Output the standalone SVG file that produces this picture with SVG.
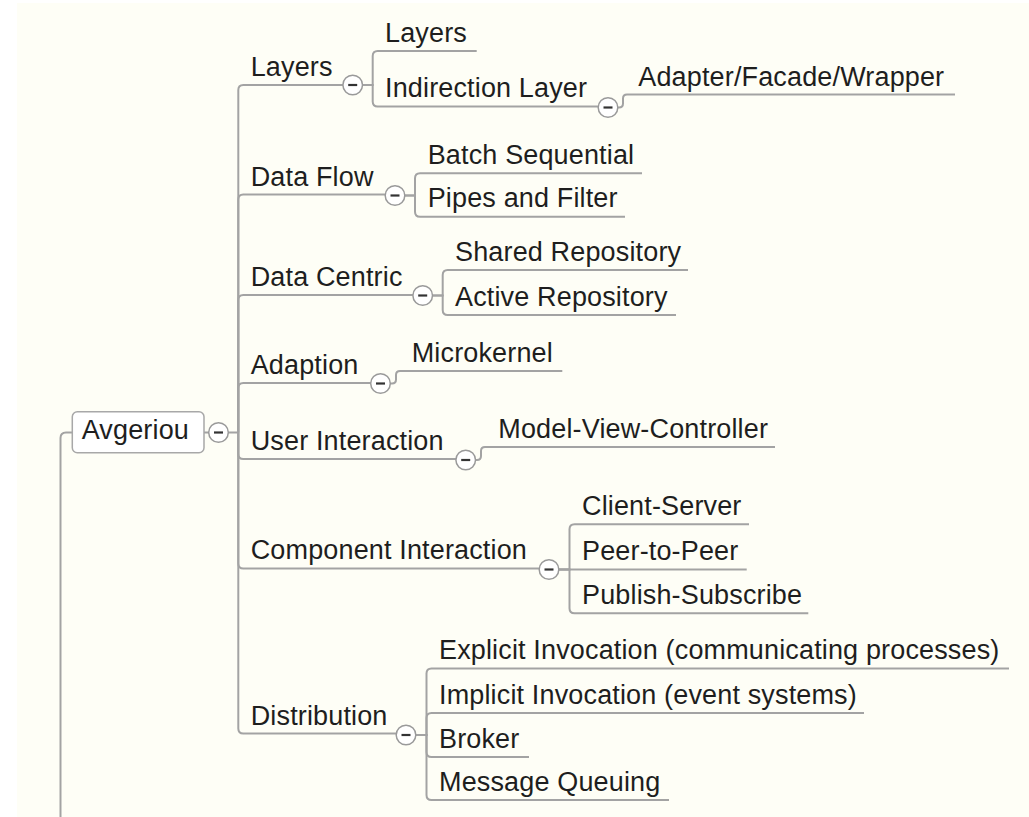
<svg xmlns="http://www.w3.org/2000/svg" xmlns:xlink="http://www.w3.org/1999/xlink" width="1029" height="817" viewBox="0 0 1029 817">
<style>
.ln{fill:none;stroke:#a3a3a3;stroke-width:2}
.t{font-family:"Liberation Sans",Arial,sans-serif;font-size:27px;letter-spacing:0.15px;fill:#1e1e1e}
.cc{fill:#ffffff;stroke:#9a9a9a;stroke-width:1.5}
.mi{stroke:#333333;stroke-width:2.2}
.box{fill:#ffffff;stroke:#a8a8a8;stroke-width:1.5}
</style>
<defs>
<g id="col"><circle class="cc" r="9.8"/><line class="mi" x1="-4.5" y1="0" x2="4.5" y2="0"/></g>
</defs>
<rect x="0" y="0" width="1029" height="817" fill="#ffffff"/>
<rect x="17" y="3" width="1012" height="814" fill="#fefef6"/>
<g id="connectors">
<path class="ln" d="M72.3,432.5 H66 Q60.5,432.5 60.5,438 V817"/>
<path class="ln" d="M204,432.5 H209"/>
<path class="ln" d="M228,432.5 H238.3"/>
<path class="ln" d="M238.3,432.5 V90 Q238.3,85 243.3,85 H343"/>
<path class="ln" d="M238.3,432.5 V199.5 Q238.3,194.5 243.3,194.5 H385.5"/>
<path class="ln" d="M238.3,432.5 V300 Q238.3,295 243.3,295 H413"/>
<path class="ln" d="M238.3,432.5 V388 Q238.3,383 243.3,383 H371"/>
<path class="ln" d="M238.3,432.5 V454 Q238.3,459 243.3,459 H456"/>
<path class="ln" d="M238.3,432.5 V563.5 Q238.3,568.5 243.3,568.5 H539.5"/>
<path class="ln" d="M238.3,432.5 V728.5 Q238.3,733.5 243.3,733.5 H396.5"/>
<path class="ln" d="M362.5,85 H372.7 V56 Q372.7,51 377.7,51 H476.7"/>
<path class="ln" d="M362.5,85 H372.7 V101.5 Q372.7,106.5 377.7,106.5 H598"/>
<path class="ln" d="M617.8,107.5 H619 Q623,107.5 623,103.5 V98.5 Q623,94.5 627,94.5 H955"/>
<path class="ln" d="M404.8,195.5 H415 V178.3 Q415,173.3 420,173.3 H642"/>
<path class="ln" d="M404.8,195.5 H415 V211.7 Q415,216.7 420,216.7 H625"/>
<path class="ln" d="M432.5,295.5 H442.7 V275 Q442.7,270 447.7,270 H688"/>
<path class="ln" d="M432.5,295.5 H442.7 V310 Q442.7,315 447.7,315 H676"/>
<path class="ln" d="M390.3,383.5 H392 Q396,383.5 396,379.5 V375 Q396,371 400,371 H562.3"/>
<path class="ln" d="M475.5,460 H477 Q481,460 481,456 V451 Q481,447 485,447 H775"/>
<path class="ln" d="M558.8,569.5 H569.5 V529.3 Q569.5,524.3 574.5,524.3 H749"/>
<path class="ln" d="M558.8,569.5 H746.7"/>
<path class="ln" d="M558.8,569.5 H569.5 V608.3 Q569.5,613.3 574.5,613.3 H808.3"/>
<path class="ln" d="M415.8,735 H426.5 V673.5 Q426.5,668.5 431.5,668.5 H1009"/>
<path class="ln" d="M415.8,735 H426.5 V718 Q426.5,713 431.5,713 H864"/>
<path class="ln" d="M415.8,735 H426.5 V752 Q426.5,757 431.5,757 H529"/>
<path class="ln" d="M415.8,735 H426.5 V795 Q426.5,800 431.5,800 H669"/>
</g>
<g id="avgeriou">
<rect class="box" x="72.3" y="411.7" width="131.7" height="41" rx="5"/>
<text class="t" x="81.7" y="439">Avgeriou</text>
<use xlink:href="#col" x="218.5" y="432.5"/>
</g>
<g id="layers">
<text class="t" x="250.7" y="76">Layers</text>
<use xlink:href="#col" x="352.7" y="85"/>
</g>
<g id="layers-layers"><text class="t" x="385" y="41.7">Layers</text></g>
<g id="indirection-layer">
<text class="t" x="385" y="97.3">Indirection Layer</text>
<use xlink:href="#col" x="608" y="107.5"/>
</g>
<g id="adapter"><text class="t" x="638.3" y="85.5">Adapter/Facade/Wrapper</text></g>
<g id="data-flow">
<text class="t" x="250.7" y="185.5">Data Flow</text>
<use xlink:href="#col" x="395" y="195.5"/>
</g>
<g id="batch-sequential"><text class="t" x="427.7" y="164">Batch Sequential</text></g>
<g id="pipes-filter"><text class="t" x="427.7" y="207.4">Pipes and Filter</text></g>
<g id="data-centric">
<text class="t" x="250.7" y="286">Data Centric</text>
<use xlink:href="#col" x="422.7" y="295.5"/>
</g>
<g id="shared-repository"><text class="t" x="455" y="260.7">Shared Repository</text></g>
<g id="active-repository"><text class="t" x="455" y="305.7">Active Repository</text></g>
<g id="adaption">
<text class="t" x="250.7" y="374">Adaption</text>
<use xlink:href="#col" x="380.5" y="383.5"/>
</g>
<g id="microkernel"><text class="t" x="411.7" y="361.7">Microkernel</text></g>
<g id="user-interaction">
<text class="t" x="250.7" y="450">User Interaction</text>
<use xlink:href="#col" x="465.7" y="460"/>
</g>
<g id="mvc"><text class="t" x="498.3" y="437.5">Model-View-Controller</text></g>
<g id="component-interaction">
<text class="t" x="250.7" y="559.3">Component Interaction</text>
<use xlink:href="#col" x="549" y="569.5"/>
</g>
<g id="client-server"><text class="t" x="582" y="515">Client-Server</text></g>
<g id="peer-to-peer"><text class="t" x="582" y="560">Peer-to-Peer</text></g>
<g id="publish-subscribe"><text class="t" x="582" y="604">Publish-Subscribe</text></g>
<g id="distribution">
<text class="t" x="250.7" y="724.8">Distribution</text>
<use xlink:href="#col" x="406" y="735"/>
</g>
<g id="explicit"><text class="t" x="439" y="659.2">Explicit Invocation (communicating processes)</text></g>
<g id="implicit"><text class="t" x="439" y="703.7">Implicit Invocation (event systems)</text></g>
<g id="broker"><text class="t" x="439" y="747.7">Broker</text></g>
<g id="message-queuing"><text class="t" x="439" y="790.7">Message Queuing</text></g>
</svg>
